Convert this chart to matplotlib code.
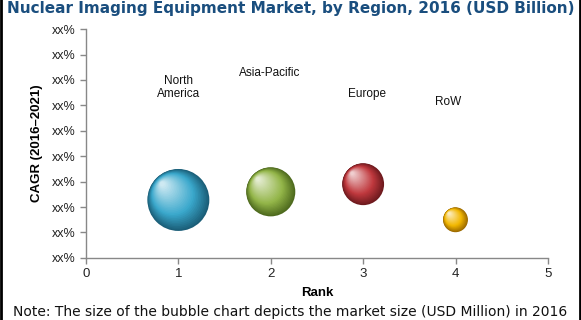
import matplotlib
matplotlib.use("Agg")
import matplotlib.pyplot as plt
import matplotlib.transforms as mtransforms
from matplotlib.lines import Line2D
import numpy as np
from matplotlib.colors import to_rgb

# ---- data ----
regions = ["North\nAmerica", "Asia-Pacific", "Europe", "RoW"]
rank = [1, 2, 3, 4]
cagr = [2.28, 2.6, 2.9, 1.5]
market_size = [1.99, 1.25, 0.91, 0.32]
label_x = [1.0, 1.99, 3.04, 3.92]
label_y = [6.7, 7.28, 6.46, 6.14]
colors = ["#3AA8CC", "#93B548", "#C0393E", "#F2B700"]
dark_colors = ["#1B5E78", "#4E6A1E", "#6E1A1E", "#9C6A00"]
yticks = list(range(10))
ytick_labels = ["xx%"] * 10
xticks = [0, 1, 2, 3, 4, 5]

fig = plt.figure(figsize=(5.81, 3.2), dpi=100)
ax = fig.add_axes([0.148, 0.194, 0.795, 0.715])
ax.set_xlim(0, 5)
ax.set_ylim(0, 9)

def mix(c1, c2, t):
    a = np.array(to_rgb(c1)); b = np.array(to_rgb(c2))
    return tuple(a * (1 - t) + b * t)

n_layers = 28
for x, y, m, c, dc in zip(rank, cagr, market_size, colors, dark_colors):
    s = m * 1000
    d_pt = np.sqrt(s)
    ax.scatter([x], [y], s=s, color=dc, edgecolors="none", zorder=3)
    for k in range(1, n_layers + 1):
        t = k / n_layers
        frac = 1 - 0.92 * t
        off = (1 - frac) * d_pt * 0.28
        tr = mtransforms.offset_copy(ax.transData, fig=fig, x=-off, y=off, units="points")
        if t < 0.35:
            col = mix(dc, c, t / 0.35)
        else:
            col = mix(c, "#FFFFFF", (t - 0.35) / 0.65 * 0.75)
        ax.scatter([x], [y], s=s * frac ** 2, color=col, edgecolors="none",
                   zorder=3 + k * 0.01, transform=tr)

for lx, ly, name in zip(label_x, label_y, regions):
    ax.text(lx, ly, name, ha="center", va="center", fontsize=8.5,
            family="Liberation Sans", color="#111111", linespacing=1.1)

for sp in ["top", "right"]:
    ax.spines[sp].set_visible(False)
for sp in ["left", "bottom"]:
    ax.spines[sp].set_color("#888888")
    ax.spines[sp].set_linewidth(1)
ax.tick_params(axis="both", direction="out", color="#888888", length=4, width=1)
ax.set_yticks(yticks)
ax.set_yticklabels(ytick_labels, family="Liberation Sans", fontsize=9, color="#222222")
ax.set_xticks(xticks)
ax.set_xticklabels([str(v) for v in xticks], family="Liberation Sans", fontsize=9.5, color="#222222")
ax.set_xlabel("Rank", family="Liberation Sans", fontsize=9.5, fontweight="bold", labelpad=5)
ax.set_ylabel("CAGR (2016\u20132021)", family="Liberation Sans", fontsize=9.5, fontweight="bold", labelpad=6)

fig.text(0.5, 0.998, "Nuclear Imaging Equipment Market, by Region, 2016 (USD Billion)",
         ha="center", va="top", fontsize=11, fontweight="bold", color="#1A4E7E",
         family="DejaVu Sans")
fig.text(0.5, 0.004, "Note: The size of the bubble chart depicts the market size (USD Million) in 2016",
         ha="center", va="bottom", fontsize=10, color="#111111", family="DejaVu Sans")

fig.add_artist(Line2D([0.001, 0.001], [0, 1], transform=fig.transFigure, color="black", lw=2))
fig.add_artist(Line2D([0.999, 0.999], [0, 1], transform=fig.transFigure, color="black", lw=2))

fig.savefig("out.png", dpi=100)
